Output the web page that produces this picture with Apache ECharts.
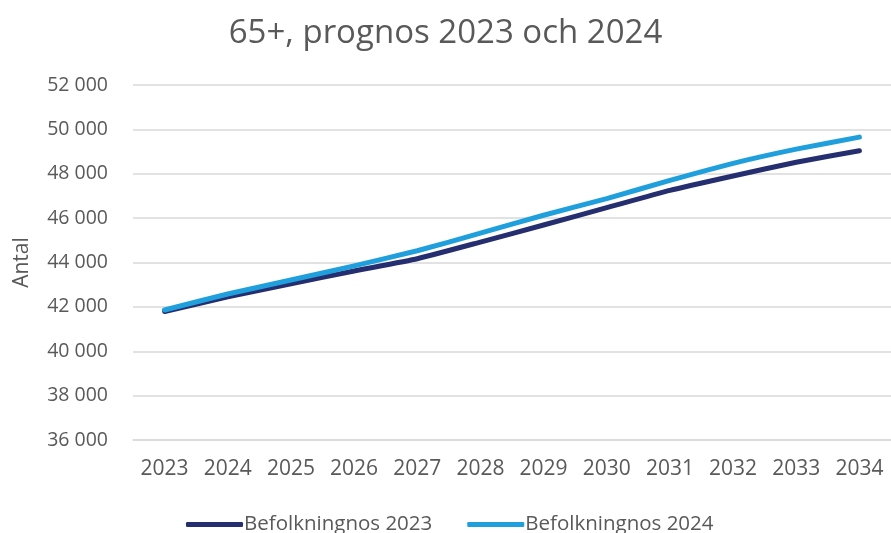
<!DOCTYPE html>
<html>
<head>
<meta charset="utf-8">
<script src="https://cdn.jsdelivr.net/npm/echarts@6/dist/echarts.min.js"></script>
<style>html,body{margin:0;padding:0;background:#fff}#c{width:891px;height:533px}</style>
</head>
<body>
<div id="c"></div>
<script>
const categories = ['2023','2024','2025','2026','2027','2028','2029','2030','2031','2032','2033','2034'];
const prognos2023 = [41790, 42450, 43040, 43620, 44170, 44920, 45690, 46470, 47250, 47900, 48520, 49040];
const prognos2024 = [41860, 42580, 43210, 43850, 44530, 45320, 46130, 46880, 47700, 48470, 49110, 49650];
const seriesNames = ['Befolkningnos 2023', 'Befolkningnos 2024'];
const titleText = '65+, prognos 2023 och 2024';
const yAxisName = 'Antal';

const FONT = '"Open Sans", "Noto Sans", sans-serif';
const chart = echarts.init(document.getElementById('c'), null, {renderer: 'canvas'});
const fmt = v => String(v).replace(/\B(?=(\d{3})+(?!\d))/g, ' ');
chart.setOption({
  animation: false,
  title: {
    text: titleText, left: 'center', top: 12,
    textStyle: {fontFamily: FONT, fontSize: 33, fontWeight: 'normal', color: '#595959'}
  },
  legend: {
    data: seriesNames, top: 509, left: 181, itemGap: 35,
    itemWidth: 57, itemHeight: 5, icon: 'roundRect',
    textStyle: {fontFamily: FONT, fontSize: 20.5, color: '#595959', padding: [0,0,0,-4]}
  },
  grid: {left: 133, right: -9, top: 85, bottom: 93, containLabel: false},
  xAxis: {
    type: 'category', data: categories, boundaryGap: true,
    axisLine: {show: true, lineStyle: {color: '#d9d9d9', width: 1.5}},
    axisTick: {show: false},
    axisLabel: {fontFamily: FONT, fontSize: 21, color: '#595959', margin: 19}
  },
  yAxis: {
    type: 'value', min: 36000, max: 52000, interval: 2000,
    name: yAxisName, nameLocation: 'middle', nameGap: 100, nameRotate: 90,
    nameTextStyle: {fontFamily: FONT, fontSize: 21, color: '#595959'},
    axisLine: {show: false}, axisTick: {show: false},
    splitLine: {lineStyle: {color: '#d9d9d9', width: 1.5}},
    axisLabel: {fontFamily: FONT, fontSize: 19.5, color: '#595959', margin: 25, formatter: fmt}
  },
  series: [
    {name: seriesNames[0], type: 'line', data: prognos2023, showSymbol: false, symbol: 'none', smooth: 0.15,
     lineStyle: {color: '#252e6f', width: 5, cap: 'round', join: 'round'}, itemStyle: {color: '#252e6f'}},
    {name: seriesNames[1], type: 'line', data: prognos2024, showSymbol: false, symbol: 'none', smooth: 0.15,
     lineStyle: {color: '#1f9fdb', width: 5, cap: 'round', join: 'round'}, itemStyle: {color: '#1f9fdb'}}
  ]
});
</script>
</body>
</html>
